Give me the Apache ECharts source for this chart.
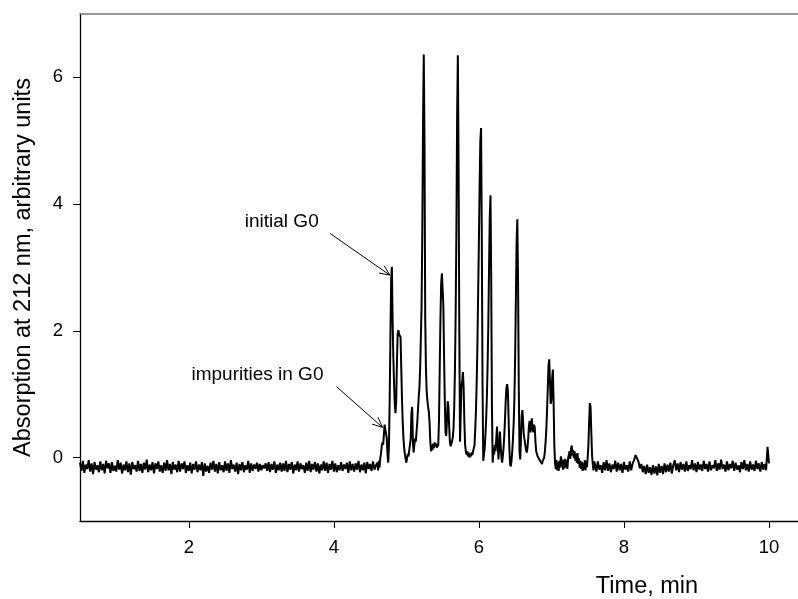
<!DOCTYPE html>
<html><head><meta charset="utf-8">
<script src="https://cdn.jsdelivr.net/npm/echarts@6/dist/echarts.min.js"></script>
<style>html,body{margin:0;padding:0;background:#fff}#c{width:798px;height:599px}</style>
</head><body><div id="c"></div>
<script>
// ---- data ----
// baseline before the peaks: samples every 0.02 min from 0.50 min
const baseLeftStart = 0.50, baseLeftStep = 0.02;
const baseLeft = [
-0.08,-0.21,-0.05,-0.24,-0.11,-0.18,-0.04,-0.22,-0.09,-0.26,
-0.07,-0.19,-0.12,-0.23,-0.06,-0.20,-0.10,-0.25,-0.05,-0.17,
-0.09,-0.24,-0.07,-0.21,-0.13,-0.22,-0.04,-0.19,-0.08,-0.25,
-0.11,-0.20,-0.06,-0.23,-0.09,-0.27,-0.07,-0.18,-0.12,-0.22,
-0.05,-0.21,-0.10,-0.24,-0.08,-0.19,-0.03,-0.23,-0.11,-0.20,
-0.07,-0.25,-0.09,-0.18,-0.06,-0.22,-0.12,-0.24,-0.08,-0.21,
-0.04,-0.20,-0.10,-0.26,-0.07,-0.19,-0.11,-0.23,-0.05,-0.22,
-0.09,-0.18,-0.06,-0.24,-0.12,-0.21,-0.08,-0.25,-0.10,-0.19,
-0.06,-0.23,-0.11,-0.20,-0.07,-0.29,-0.09,-0.22,-0.13,-0.24,
-0.08,-0.19,-0.05,-0.22,-0.10,-0.25,-0.07,-0.20,-0.12,-0.23,
-0.06,-0.21,-0.09,-0.24,-0.04,-0.18,-0.11,-0.22,-0.08,-0.26,
-0.10,-0.20,-0.07,-0.23,-0.12,-0.19,-0.05,-0.24,-0.09,-0.21,
-0.11,-0.18,-0.08,-0.22,-0.10,-0.20,-0.12,-0.17,-0.09,-0.21,
-0.07,-0.23,-0.10,-0.19,-0.06,-0.24,-0.11,-0.20,-0.08,-0.22,
-0.09,-0.21,-0.05,-0.23,-0.10,-0.19,-0.07,-0.25,-0.11,-0.20,
-0.06,-0.22,-0.09,-0.18,-0.12,-0.24,-0.08,-0.21,-0.05,-0.23,
-0.10,-0.19,-0.07,-0.22,-0.09,-0.25,-0.11,-0.20,-0.06,-0.21,
-0.08,-0.24,-0.10,-0.19,-0.05,-0.22,-0.09,-0.23,-0.12,-0.20,
-0.07,-0.21,-0.11,-0.18,-0.08,-0.24,-0.06,-0.20,-0.10,-0.22,
-0.09,-0.19,-0.05,-0.23,-0.11,-0.20,-0.08,-0.25,-0.07,-0.18,
-0.10,-0.21,-0.06,-0.19,-0.12
];
// peak region: samples every 0.01 min from 4.60 min
const peakStart = 4.60, peakStep = 0.01;
const peakRegion = [
-0.08,-0.20,-0.05,-0.16,-0.01,0.06,0.18,0.24,0.20,0.36,
0.52,0.44,0.38,0.30,0.05,-0.08,0.20,0.90,1.90,2.80,
3.01,2.20,1.60,1.18,0.85,0.70,0.90,1.50,1.95,2.01,
1.95,1.98,1.90,1.40,0.91,0.55,0.30,0.15,0.05,-0.02,
-0.08,0.00,0.06,0.02,0.12,0.10,0.30,0.70,0.80,0.25,
0.08,0.20,0.30,0.25,0.40,0.55,0.75,0.95,1.10,1.40,
1.90,2.40,3.60,5.30,6.36,5.00,2.20,1.40,1.05,0.90,
0.80,0.72,0.55,0.25,0.10,0.20,0.12,0.22,0.15,0.24,
0.18,0.22,0.16,0.18,0.20,0.60,1.40,2.20,2.75,2.91,
2.88,2.40,1.60,0.90,0.40,0.34,0.60,0.89,0.80,0.50,
0.25,0.18,0.20,0.26,0.32,0.45,0.80,1.40,2.30,3.60,
5.40,6.35,4.60,2.00,0.25,0.70,1.15,1.20,1.35,1.10,
0.55,0.20,0.10,0.05,0.10,0.02,0.08,0.00,0.06,0.02,
0.08,0.04,0.10,0.15,0.20,0.45,0.75,1.20,1.80,2.60,
3.40,4.30,5.00,5.20,3.50,1.20,-0.05,0.05,0.15,0.35,
0.60,0.95,1.45,2.10,3.00,3.80,4.14,2.80,0.80,-0.08,
0.10,0.05,0.20,0.10,0.30,0.49,0.20,-0.03,0.15,0.41,
0.20,0.02,-0.08,0.02,0.15,0.35,0.60,0.90,1.10,1.16,
1.05,0.60,0.15,-0.10,-0.14,-0.05,0.10,0.30,0.55,0.95,
1.60,2.50,3.40,3.76,2.80,1.10,0.10,-0.03,0.30,0.65,
0.75,0.55,0.35,0.28,0.20,0.12,0.08,0.15,0.30,0.50,
0.58,0.40,0.50,0.62,0.45,0.40,0.52,0.48,0.25,0.10,
0.07,0.02,0.05,-0.02,0.00,-0.06,-0.03,-0.10,-0.05,-0.08,
0.00,0.10,0.25,0.45,0.75,1.10,1.45,1.55,1.20,0.85,
0.90,1.25,1.39,0.90,0.20,-0.08,-0.18,-0.04,-0.20,-0.07,
-0.21,-0.05,-0.16,0.02,0.05,-0.12,-0.19,-0.03,-0.17,-0.02,
-0.15,-0.04,-0.18,-0.01,0.04,0.10,-0.02,0.14,0.19,0.03,
0.12,-0.01,0.10,-0.05,0.06,-0.08,0.07,-0.10,-0.01,-0.16,
-0.05,-0.18,-0.07,-0.21,-0.09,-0.19,-0.04,-0.20,-0.06,-0.15,
0.00,0.20,0.55,0.86,0.80,0.40,0.05,-0.10,-0.20,-0.06
];
// baseline after the peaks: samples every 0.02 min from 7.60 min
const baseRightStart = 7.60, baseRightStep = 0.02;
const baseRight = [
-0.10,-0.22,-0.06,-0.19,-0.12,-0.24,-0.07,-0.20,-0.04,-0.21,
-0.09,-0.23,-0.11,-0.18,-0.05,-0.22,-0.08,-0.20,-0.10,-0.24,
-0.07,-0.19,-0.12,-0.22,-0.06,-0.20,-0.09,-0.04,0.04,0.02,
-0.06,-0.17,-0.10,-0.23,-0.13,-0.26,-0.11,-0.24,-0.15,-0.27,
-0.12,-0.25,-0.14,-0.28,-0.10,-0.24,-0.13,-0.26,-0.09,-0.23,
-0.11,-0.22,-0.08,-0.25,-0.12,-0.04,-0.20,-0.09,-0.23,-0.07,
-0.19,-0.10,-0.22,-0.06,-0.21,-0.12,-0.18,-0.04,-0.20,-0.09,
-0.23,-0.07,-0.19,-0.11,-0.21,-0.05,-0.18,-0.10,-0.22,-0.06,
-0.20,-0.12,-0.17,-0.04,-0.21,-0.09,-0.19,-0.03,-0.18,-0.11,
-0.22,-0.06,-0.20,-0.10,-0.17,-0.05,-0.21,-0.08,-0.19,-0.12,
-0.23,-0.07,-0.18,-0.04,-0.20,-0.10,-0.22,-0.06,-0.19,-0.11,
-0.21,-0.05,-0.18,-0.09,-0.22,-0.07,-0.19,-0.10,-0.20,0.17,
-0.09
];
const xTicks = [2, 4, 6, 8, 10];
const yTicks = [0, 2, 4, 6];
const xTitle = 'Time, min';
const yTitle = 'Absorption at 212 nm, arbitrary units';
const annotations = [
  { text: 'initial G0',       textAt: [2.772, 3.72], from: [3.945, 3.54], to: [4.772, 2.88] },
  { text: 'impurities in G0', textAt: [2.037, 1.31], from: [4.037, 1.12], to: [4.672, 0.477] }
];

// ---- build ----
function seg(start, step, vals) {
  return vals.map((v, i) => [+(start + i * step).toFixed(3), v]);
}
const data = [].concat(
  seg(baseLeftStart, baseLeftStep, baseLeft),
  seg(peakStart, peakStep, peakRegion),
  seg(baseRightStart, baseRightStep, baseRight)
);

const FONT = '"Liberation Sans", Arial, Helvetica, sans-serif';
const chart = echarts.init(document.getElementById('c'), null, { renderer: 'canvas' });
chart.setOption({
  animation: false,
  backgroundColor: '#fff',
  grid: { left: 80, top: 14, right: 0, bottom: 78, containLabel: false },
  xAxis: [{
    type: 'value', min: 0.5, max: 10.4, position: 'bottom',
    axisLine: { show: true, onZero: false, lineStyle: { color: '#000', width: 1.3 } },
    axisTick: { show: true, length: 7, customValues: xTicks, lineStyle: { color: '#000', width: 1 } },
    axisLabel: { customValues: xTicks, fontSize: 18.5, color: '#000', margin: 17, fontFamily: FONT },
    splitLine: { show: false }
  }, {
    type: 'value', min: 0.5, max: 10.4, position: 'top',
    axisLine: { show: true, onZero: false, lineStyle: { color: '#777', width: 1.5 } },
    axisTick: { show: false }, axisLabel: { show: false }, splitLine: { show: false }
  }],
  yAxis: {
    type: 'value', min: -1, max: 7,
    axisLine: { show: true, onZero: false, lineStyle: { color: '#000', width: 1.3 } },
    axisTick: { show: true, length: 7, customValues: yTicks, lineStyle: { color: '#000', width: 1 } },
    axisLabel: { customValues: yTicks, fontSize: 18.5, color: '#000', margin: 17, fontFamily: FONT },
    splitLine: { show: false },
    name: yTitle, nameLocation: 'middle', nameGap: 44,
    nameTextStyle: { fontSize: 23.5, color: '#000', fontFamily: FONT }
  },
  series: [{
    type: 'line', data: data, xAxisIndex: 0, yAxisIndex: 0,
    symbol: 'none', showSymbol: false, smooth: false,
    lineStyle: { color: '#000', width: 2 }
  }]
});

// titles and annotations placed through the chart's own coordinate conversion
const g = [{
  type: 'text', x: 647, y: 587,
  style: { text: xTitle, font: '23.5px ' + FONT, fill: '#000', textAlign: 'center', textVerticalAlign: 'middle' }
}];
annotations.forEach(a => {
  const tp = chart.convertToPixel({ xAxisIndex: 0, yAxisIndex: 0 }, a.textAt);
  const p0 = chart.convertToPixel({ xAxisIndex: 0, yAxisIndex: 0 }, a.from);
  const p1 = chart.convertToPixel({ xAxisIndex: 0, yAxisIndex: 0 }, a.to);
  g.push({ type: 'text', x: tp[0], y: tp[1],
    style: { text: a.text, font: '19px ' + FONT, fill: '#000', textAlign: 'left', textVerticalAlign: 'middle' } });
  g.push({ type: 'line', shape: { x1: p0[0], y1: p0[1], x2: p1[0], y2: p1[1] },
    style: { stroke: '#000', lineWidth: 1 } });
  const ang = Math.atan2(p1[1] - p0[1], p1[0] - p0[0]);
  const L = 11, w = 0.42;
  const h1 = [p1[0] - L * Math.cos(ang - w), p1[1] - L * Math.sin(ang - w)];
  const h2 = [p1[0] - L * Math.cos(ang + w), p1[1] - L * Math.sin(ang + w)];
  g.push({ type: 'polyline', shape: { points: [h1, p1, h2] },
    style: { stroke: '#000', lineWidth: 1, fill: null } });
});
chart.setOption({ graphic: g });
</script>
</body></html>
